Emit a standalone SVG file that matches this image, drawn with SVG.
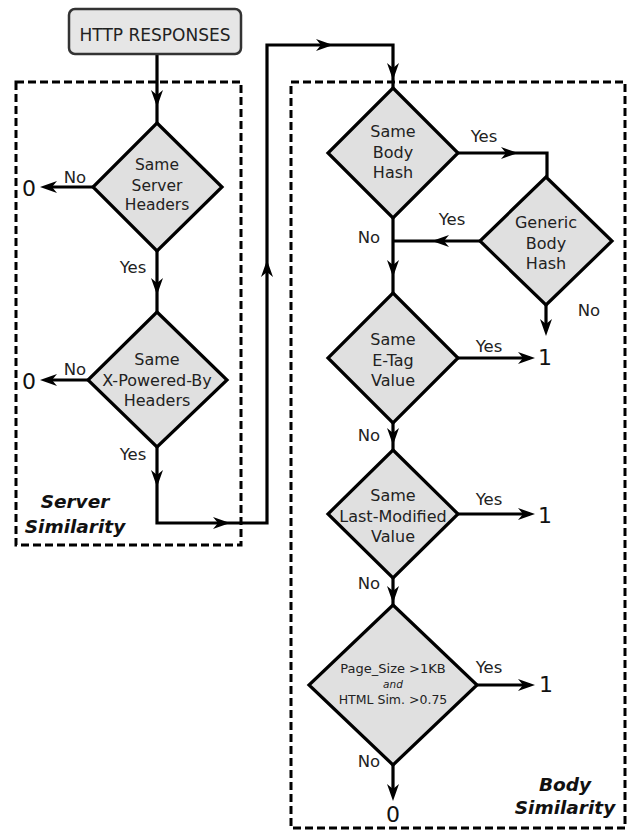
<svg xmlns="http://www.w3.org/2000/svg" xmlns:xlink="http://www.w3.org/1999/xlink" width="629" height="831" viewBox="0 0 629 831">
<style>
.grp{fill:none;stroke:#000;stroke-width:3;stroke-dasharray:8,4}
.dia{fill:#e0e0e0;stroke:#000;stroke-width:3.2;stroke-linejoin:miter}
.box{fill:#e6e6e6;stroke:#333;stroke-width:2.5}
.con{fill:none;stroke:#000;stroke-width:3.2;stroke-linejoin:miter}
.t{font-family:"DejaVu Sans",sans-serif;fill:#222;text-anchor:middle}
.n{font-size:16px}
.lbl{font-family:"DejaVu Sans",sans-serif;fill:#222;font-size:16.5px;text-anchor:middle}
.res{font-family:"DejaVu Sans",sans-serif;fill:#111;font-size:22px;text-anchor:middle}
.title{font-family:"DejaVu Sans",sans-serif;fill:#111;font-size:18.5px;font-weight:bold;font-style:italic;text-anchor:middle}
</style>
<defs>
<path id="ah" d="M0,0 L-17,-6 L-12,0 L-17,6 Z" fill="#000"/>
</defs>
<g id="server-similarity-group">
<rect class="grp" x="16" y="82" width="225" height="463"/>
<text class="title" x="75" y="508">Server</text>
<text class="title" x="75" y="533">Similarity</text>
</g>
<g id="body-similarity-group">
<rect class="grp" x="291" y="82" width="334" height="746"/>
<text class="title" x="565" y="791">Body</text>
<text class="title" x="565" y="814">Similarity</text>
</g>
<g id="connectors">
<path class="con" d="M157,54 V123"/>
<path class="con" d="M93,187 H46"/>
<path class="con" d="M157,251 V312"/>
<path class="con" d="M88,380 H46"/>
<path class="con" d="M157,447 V523 H267 V45 H393 V88"/>
<path class="con" d="M458,153 H547 V177"/>
<path class="con" d="M480,241 H393"/>
<path class="con" d="M393,218 V293"/>
<path class="con" d="M546,305 V330"/>
<path class="con" d="M458,358 H530"/>
<path class="con" d="M393,423 V450"/>
<path class="con" d="M458,514 H530"/>
<path class="con" d="M393,578 V605"/>
<path class="con" d="M477,685 H530"/>
<path class="con" d="M393,765 V795"/>
<use xlink:href="#ah" transform="translate(157,107) rotate(90)"/>
<use xlink:href="#ah" transform="translate(40,187) rotate(180)"/>
<use xlink:href="#ah" transform="translate(157,295) rotate(90)"/>
<use xlink:href="#ah" transform="translate(40,380) rotate(180)"/>
<use xlink:href="#ah" transform="translate(157,487) rotate(90)"/>
<use xlink:href="#ah" transform="translate(230,523)"/>
<use xlink:href="#ah" transform="translate(267,260) rotate(-90)"/>
<use xlink:href="#ah" transform="translate(333,45)"/>
<use xlink:href="#ah" transform="translate(393,80) rotate(90)"/>
<use xlink:href="#ah" transform="translate(518,153)"/>
<use xlink:href="#ah" transform="translate(432,241) rotate(180)"/>
<use xlink:href="#ah" transform="translate(393,277) rotate(90)"/>
<use xlink:href="#ah" transform="translate(546,336) rotate(90)"/>
<use xlink:href="#ah" transform="translate(535,358)"/>
<use xlink:href="#ah" transform="translate(393,445) rotate(90)"/>
<use xlink:href="#ah" transform="translate(535,514)"/>
<use xlink:href="#ah" transform="translate(393,603) rotate(90)"/>
<use xlink:href="#ah" transform="translate(535,685)"/>
<use xlink:href="#ah" transform="translate(393,801) rotate(90)"/>
<text class="lbl" x="75" y="183">No</text>
<text class="res" x="29" y="196">0</text>
<text class="lbl" x="133" y="273">Yes</text>
<text class="lbl" x="75" y="375">No</text>
<text class="res" x="29" y="389">0</text>
<text class="lbl" x="133" y="460">Yes</text>
<text class="lbl" x="484" y="142">Yes</text>
<text class="lbl" x="452" y="225">Yes</text>
<text class="lbl" x="369" y="243">No</text>
<text class="lbl" x="589" y="316">No</text>
<text class="lbl" x="489" y="352">Yes</text>
<text class="res" x="545" y="365">1</text>
<text class="lbl" x="369" y="441">No</text>
<text class="lbl" x="489" y="505">Yes</text>
<text class="res" x="545" y="523">1</text>
<text class="lbl" x="369" y="589">No</text>
<text class="lbl" x="489" y="673">Yes</text>
<text class="res" x="546" y="692">1</text>
<text class="lbl" x="369" y="767">No</text>
<text class="res" x="393" y="822">0</text>
</g>
<g id="http-responses">
<rect class="box" x="69" y="9" width="172" height="45" rx="6"/>
<text class="t" x="155" y="41" font-size="17">HTTP RESPONSES</text>
</g>
<g id="same-server-headers">
<polygon class="dia" points="157,123 222,187 157,251 93,187"/>
<text class="t" x="157" y="170" font-size="15.5">Same</text>
<text class="t" x="157" y="191" font-size="15.5">Server</text>
<text class="t" x="157" y="210" font-size="15.5">Headers</text>
</g>
<g id="same-x-powered-by">
<polygon class="dia" points="157,312 227,380 157,447 88,380"/>
<text class="t n" x="157" y="365">Same</text>
<text class="t n" x="157" y="386">X-Powered-By</text>
<text class="t n" x="157" y="406">Headers</text>
</g>
<g id="same-body-hash">
<polygon class="dia" points="393,88 458,153 393,218 328,153"/>
<text class="t n" x="393" y="137">Same</text>
<text class="t n" x="393" y="158">Body</text>
<text class="t n" x="393" y="178">Hash</text>
</g>
<g id="generic-body-hash">
<polygon class="dia" points="546,177 612,241 546,305 480,241"/>
<text class="t n" x="546" y="228">Generic</text>
<text class="t n" x="546" y="249">Body</text>
<text class="t n" x="546" y="269">Hash</text>
</g>
<g id="same-etag">
<polygon class="dia" points="393,293 458,358 393,423 328,358"/>
<text class="t n" x="393" y="345">Same</text>
<text class="t n" x="393" y="366">E-Tag</text>
<text class="t n" x="393" y="386">Value</text>
</g>
<g id="same-last-modified">
<polygon class="dia" points="393,450 458,514 393,578 328,514"/>
<text class="t n" x="393" y="501">Same</text>
<text class="t n" x="393" y="522">Last-Modified</text>
<text class="t n" x="393" y="542">Value</text>
</g>
<g id="page-size-html-sim">
<polygon class="dia" points="393,605 477,685 393,765 309,685"/>
<text class="t" x="393" y="673" font-size="13">Page_Size &gt;1KB</text>
<text class="t" x="393" y="688" font-size="10.5" font-style="italic">and</text>
<text class="t" x="393" y="704" font-size="12.5">HTML Sim. &gt;0.75</text>
</g>
</svg>
